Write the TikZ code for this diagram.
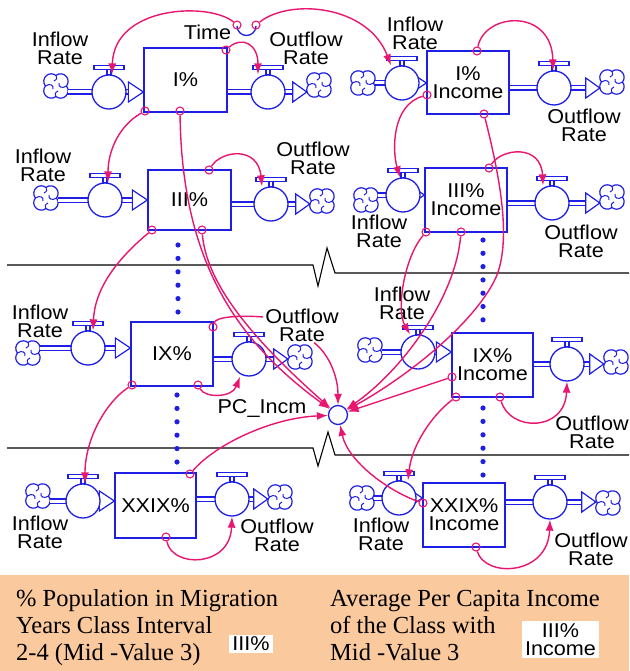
\documentclass[tikz,border=0pt]{standalone}
\usepackage{fontspec}
\setmainfont{Liberation Serif}
\newfontfamily\labfont[FakeStretch=1.08]{Liberation Sans}
\usetikzlibrary{arrows.meta,calc}
\definecolor{bl}{RGB}{30,30,228}
\definecolor{pk}{RGB}{232,22,112}
\definecolor{peach}{RGB}{250,201,157}
\tikzset{
 lab/.style={font=\labfont\fontsize{20}{18}\selectfont, align=center, inner sep=0pt},
 stock/.style={draw=bl, line width=1.3pt, rectangle, lab},
 valvec/.style={circle, draw=bl, line width=1.3pt, fill=white, minimum size=34pt, inner sep=0pt},
 cloudn/.style={circle, minimum size=24pt, inner sep=0pt},
 cloudline/.style={draw=bl, line width=1.2pt, fill=white},
 pipe/.style={draw=bl, line width=1.1pt, double=white, double distance=3pt},
 tri/.style={draw=bl, line width=1.2pt, line join=miter},
 tail/.style={circle, draw=pk, line width=1.1pt, minimum size=8pt, inner sep=0pt},
 conn/.style={draw=pk, line width=1.4pt, -{Latex[length=11pt,width=8pt]}},
 link/.style={draw=pk, line width=1.4pt},
 convn/.style={circle, draw=bl, line width=1.3pt, minimum size=19pt, inner sep=0pt, fill=white},
 brk/.style={draw=black, line width=1.1pt},
 legtxt/.style={font=\fontsize{24.5}{27}\selectfont, inner sep=0pt, anchor=base west},
 legbox/.style={lab, fill=white, inner xsep=3pt, inner ysep=2pt},
}
\newcommand\mkcloud[2]{\node[cloudn] (#1) at (#2) {};
 \draw[cloudline] ($(#1.center)+(-10.6,0)$) arc[start angle=141.3, end angle=308.7, radius=7.5]
   arc[start angle=231.3, end angle=398.7, radius=7.5]
   arc[start angle=321.3, end angle=488.7, radius=7.5]
   arc[start angle=51.3, end angle=218.7, radius=7.5] -- cycle;
 \draw[bl, line width=1pt] ($(#1.center)+(-10.6,0)$) .. controls ($(#1.center)+(-6,-3)$) and ($(#1.center)+(-2,-1)$) .. ($(#1.center)+(-3,3)$);
 \draw[bl, line width=1pt] ($(#1.center)+(10.6,0)$) .. controls ($(#1.center)+(6,3)$) and ($(#1.center)+(2,1)$) .. ($(#1.center)+(3,-3)$);
 \draw[bl, line width=1pt] ($(#1.center)+(0,-10.6)$) .. controls ($(#1.center)+(1,-7)$) .. ($(#1.center)+(-2,-5)$);
 \draw[bl, line width=1pt] ($(#1.center)+(0,10.6)$) .. controls ($(#1.center)+(-1,7)$) .. ($(#1.center)+(2,5)$);}
\newcommand\inpipe[3]{%
 \draw[pipe] (#2 -| #1.east) -- (#2);
 \draw[pipe] (#2) -- ($(#2 -| #3.west)+(-15,0)$);
 \draw[tri] (#2 -| #3.west) -- ++(-15,-10) -- ++(0,20) -- cycle;}
\newcommand\outpipe[3]{%
 \draw[pipe] (#2 -| #1.east) -- (#2);
 \draw[pipe] (#2) -- ($(#2 -| #3.west)+(-14,0)$);
 \draw[tri] (#2 -| #3.west) -- ++(-14,-10) -- ++(0,20) -- cycle;}
\newcommand\mkvalve[2]{%
 \node[valvec] (#1) at (#2) {};
 \draw[bl, line width=1.1pt] ($(#1.north)+(-2,0)$) rectangle ($(#1.north)+(2,-5)$);
 \draw[bl, line width=1.2pt, fill=white] ($(#1.north)+(-15,-5)$) rectangle ($(#1.north)+(15,-8.5)$);}
\begin{document}
\begin{tikzpicture}[x=1pt,y=-1pt]
\useasboundingbox (0,0) rectangle (629,671);
\fill[white] (0,0) rectangle (629,671);
\fill[peach] (0,575) rectangle (629,671);

% break lines
\draw[brk] (7,265) -- (313,265) -- (318,286) -- (327,248) -- (335,273) -- (629,273);
\draw[brk] (7,448) -- (313,448) -- (318,466) -- (328,432) -- (335,455) -- (629,455);

% dots
\foreach \k in {0,...,5} \fill[bl] (178,{245+13.4*\k}) circle (2.6);
\foreach \k in {0,...,5} \fill[bl] (177,{395+13.4*\k}) circle (2.6);
\foreach \k in {0,...,6} \fill[bl] (483,{240+13.3*\k}) circle (2.6);
\foreach \k in {0,...,5} \fill[bl] (483,{408+13.4*\k}) circle (2.6);

% stocks
\node[stock, minimum width=83pt, minimum height=64pt] (A) at (185.5,80) {I\%};
\node[stock, minimum width=82pt, minimum height=63pt] (B) at (468,82.5) {I\%\\Income};
\node[stock, minimum width=83pt, minimum height=60pt] (C) at (189.5,200) {III\%};
\node[stock, minimum width=82pt, minimum height=64pt] (C2) at (466,200) {III\%\\Income};
\node[stock, minimum width=82pt, minimum height=64pt] (D) at (172,354) {IX\%};
\node[stock, minimum width=81pt, minimum height=64pt] (D2) at (492.5,365) {IX\%\\Income};
\node[stock, minimum width=81pt, minimum height=65pt] (E) at (155.5,505.5) {XXIX\%};
\node[stock, minimum width=82pt, minimum height=64pt] (E2) at (464,515) {XXIX\%\\Income};

% clouds
\mkcloud{cAi}{56,86}  \mkcloud{cAo}{319,85}
\mkcloud{cBi}{363,83} \mkcloud{cBo}{612,82}
\mkcloud{cCi}{46,198} \mkcloud{cCo}{322,201}
\mkcloud{cC2i}{366,200} \mkcloud{cC2o}{612,197}
\mkcloud{cDi}{28,353} \mkcloud{cDo}{300,357}
\mkcloud{cD2i}{370,350} \mkcloud{cD2o}{616,362}
\mkcloud{cEi}{38,496} \mkcloud{cEo}{280,497}
\mkcloud{cE2i}{362,498} \mkcloud{cE2o}{608,503}

% valve centres
\coordinate (pAi) at (109,92);  \coordinate (pAo) at (268,92);
\coordinate (pBi) at (402,83);  \coordinate (pBo) at (554,88);
\coordinate (pCi) at (105,200); \coordinate (pCo) at (271,204);
\coordinate (pC2i) at (403,195); \coordinate (pC2o) at (552,203);
\coordinate (pDi) at (88,348);  \coordinate (pDo) at (249,359);
\coordinate (pD2i) at (418,352); \coordinate (pD2o) at (567,364);
\coordinate (pEi) at (83,501);  \coordinate (pEo) at (232,499);
\coordinate (pE2i) at (399,498); \coordinate (pE2o) at (550,502);

% pipes
\inpipe{cAi}{pAi}{A}   \outpipe{A}{pAo}{cAo}
\inpipe{cBi}{pBi}{B}   \outpipe{B}{pBo}{cBo}
\inpipe{cCi}{pCi}{C}   \outpipe{C}{pCo}{cCo}
\inpipe{cC2i}{pC2i}{C2} \outpipe{C2}{pC2o}{cC2o}
\inpipe{cDi}{pDi}{D}   \outpipe{D}{pDo}{cDo}
\inpipe{cD2i}{pD2i}{D2} \outpipe{D2}{pD2o}{cD2o}
\inpipe{cEi}{pEi}{E}   \outpipe{E}{pEo}{cEo}
\inpipe{cE2i}{pE2i}{E2} \outpipe{E2}{pE2o}{cE2o}

% valves
\mkvalve{Ai}{pAi} \mkvalve{Ao}{pAo}
\mkvalve{Bi}{pBi} \mkvalve{Bo}{pBo}
\mkvalve{Ci}{pCi} \mkvalve{Co}{pCo}
\mkvalve{C2i}{pC2i} \mkvalve{C2o}{pC2o}
\mkvalve{Di}{pDi} \mkvalve{Do}{pDo}
\mkvalve{D2i}{pD2i} \mkvalve{D2o}{pD2o}
\mkvalve{Ei}{pEi} \mkvalve{Eo}{pEo}
\mkvalve{E2i}{pE2i} \mkvalve{E2o}{pE2o}

% converter
\node[convn] (conv) at (338,415) {};

% labels
\node[lab] (AiL) at (60,48) {Inflow\\Rate};
\node[lab] (AoL) at (306,48) {Outflow\\Rate};
\node[lab] (BiL) at (415,33) {Inflow\\Rate};
\node[lab] (BoL) at (584,125) {Outflow\\Rate};
\node[lab] (CiL) at (43,165) {Inflow\\Rate};
\node[lab] (CoL) at (313,158) {Outflow\\Rate};
\node[lab] (C2iL) at (379,231) {Inflow\\Rate};
\node[lab] (C2oL) at (581,241) {Outflow\\Rate};
\node[lab] (DiL) at (40,321) {Inflow\\Rate};
\node[lab] (DoL) at (302,325) {Outflow\\Rate};
\node[lab] (D2iL) at (402,303) {Inflow\\Rate};
\node[lab] (D2oL) at (592,432) {Outflow\\Rate};
\node[lab] (EiL) at (40,532) {Inflow\\Rate};
\node[lab] (EoL) at (277,535) {Outflow\\Rate};
\node[lab] (E2iL) at (381,534) {Inflow\\Rate};
\node[lab] (E2oL) at (591,549) {Outflow\\Rate};
\node[lab, anchor=base] (TimeL) at (207.5,40) {Time};
\node[lab, anchor=base] (PCL) at (262,413) {PC\_Incm};

% time symbol
\draw[bl, line width=1.3pt] (237,26) arc[start angle=180, end angle=0, radius=9.5];

% connectors
\node[tail] (t1) at (237,25) {};
\node[tail] (t2) at (256,25) {};
\draw[conn] (t1) .. controls (210,2) and (114,5) .. ($(Ai.north)+(3,0)$);
\draw[conn] (t2) .. controls (290,-2) and (368,5) .. ($(Bi.north)+(-11,0)$);

\node[tail] (tA1) at (226,50) {};
\draw[conn] (tA1) .. controls (242,36) and (258,44) .. ($(Ao.north)+(-10,0)$);
\node[tail] (tA2) at (145,111) {};
\draw[conn] (tA2) .. controls (120,125) and (108,150) .. ($(Ci.north)+(3,0)$);
\node[tail] (tA3) at (180,111) {};
\draw[conn] (tA3) .. controls (182,260) and (235,340) .. (conv);

\node[tail] (tC1) at (209,170) {};
\draw[conn] (tC1) .. controls (222,150) and (258,146) .. ($(Co.north)+(-9,0)$);
\node[tail] (tC2) at (152,230) {};
\draw[conn] (tC2) .. controls (122,255) and (95,285) .. ($(Di.north)+(5,0)$);
\node[tail] (tC3) at (202,230) {};
\draw[conn] (tC3) .. controls (207,290) and (265,350) .. (conv);

\node[tail] (tD1) at (213,327) {};
\draw[link] (tD1) .. controls (216,317) and (238,315) .. ($(DoL.west)+(-2,-8)$);
\draw[conn] ($(DoL.south)+(12,1)$) .. controls (330,355) and (338,378) .. (conv);
\node[tail] (tD2) at (198,385) {};
\draw[conn] (tD2) .. controls (205,398) and (232,398) .. ($(Do.south)+(-9,0)$);
\node[tail] (tD3) at (132,385) {};
\draw[conn] (tD3) .. controls (105,403) and (85,440) .. ($(Ei.north)+(2,0)$);

\node[tail] (tE1) at (190,474) {};
\draw[conn] (tE1) .. controls (215,445) and (270,418) .. (conv);
\node[tail] (tE2) at (166,537) {};
\draw[conn] (tE2) .. controls (172,568) and (230,568) .. (Eo.south);

\node[tail] (tB1) at (477,51) {};
\draw[conn] (tB1) .. controls (485,12) and (552,8) .. ($(Bo.north)+(-1,0)$);
\node[tail] (tB2) at (427,95) {};
\draw[conn] (tB2) .. controls (392,105) and (392,150) .. ($(C2i.north)+(-3,0)$);
\node[tail] (tB3) at (484,114) {};
\draw[conn] (tB3) .. controls (498,170) and (512,235) .. (497,275) .. controls (478,320) and (410,375) .. (conv);

\node[tail] (tC21) at (489,168) {};
\draw[conn] (tC21) .. controls (502,148) and (541,144) .. ($(C2o.north)+(-9,0)$);
\node[tail] (tC22) at (426,232) {};
\draw[conn] (tC22) .. controls (404,258) and (396,310) .. ($(D2i.north)+(-8,0)$);
\node[tail] (tC23) at (461,232) {};
\draw[conn] (tC23) .. controls (455,300) and (400,372) .. (conv);

\node[tail] (tD21) at (452,377) {};
\draw[conn] (tD21) -- (conv);
\node[tail] (tD22) at (456,397) {};
\draw[conn] (tD22) .. controls (432,415) and (412,445) .. ($(E2i.north)+(9,0)$);
\node[tail] (tD23) at (500,397) {};
\draw[conn] (tD23) .. controls (510,432) and (565,432) .. (D2o.south);

\node[tail] (tE21) at (423,503) {};
\draw[conn] (tE21) .. controls (390,492) and (348,462) .. (conv);
\node[tail] (tE22) at (476,547) {};
\draw[conn] (tE22) .. controls (485,578) and (548,576) .. (E2o.south);

% legend
\node[legtxt] (L1) at (16,606) {\% Population in Migration};
\node[legtxt] (L2) at (16,633) {Years Class Interval};
\node[legtxt] (L3) at (16,660) {2-4 (Mid -Value 3)};
\node[legtxt] (R1) at (330,606) {Average Per Capita Income};
\node[legtxt] (R2) at (330,633) {of the Class with};
\node[legtxt] (R3) at (330,660) {Mid -Value 3};
\node[legbox] (LB) at (251,644) {III\%};
\node[legbox] (RB) at (560.5,639.5) {III\%\\Income};
\end{tikzpicture}
\end{document}
